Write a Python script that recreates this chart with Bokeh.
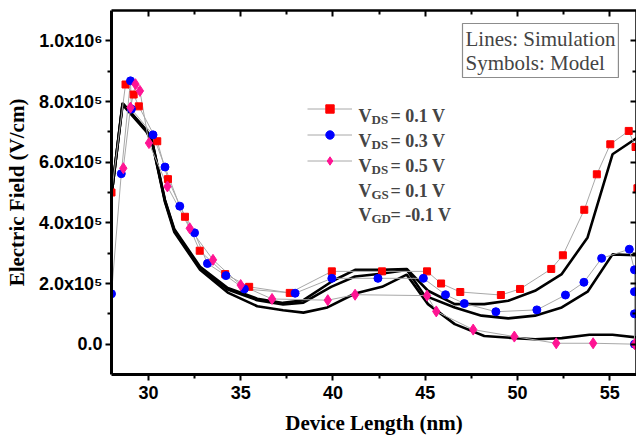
from bokeh.plotting import figure
from bokeh.models import (LinearAxis, FixedTicker, Label, Legend, LegendItem, Range1d,
                          CustomJSTickFormatter)
from bokeh.embed import file_html
from bokeh.resources import INLINE

# ---- Model (symbols) ----
red_x = [28.0, 28.76, 29.2, 29.48, 30.48, 31.06, 31.98, 32.78, 34.16, 35.46, 37.66, 39.94,
         42.66, 45.1, 45.86, 46.9, 49.1, 50.14, 51.83, 52.46, 53.62, 54.3, 55.03, 56.03, 56.4, 56.5]
red_y = [5.0e5, 8.56e5, 8.23e5, 7.84e5, 6.69e5, 5.44e5, 4.2e5, 3.08e5, 2.31e5, 1.89e5, 1.69e5, 2.4e5,
         2.4e5, 2.4e5, 2.0e5, 1.72e5, 1.62e5, 1.82e5, 2.48e5, 2.93e5, 4.43e5, 5.6e5, 6.59e5, 7.03e5, 6.5e5, 5.14e5]

blue_x = [28.0, 28.53, 29.03, 29.08, 30.25, 30.9, 31.7, 32.5, 33.2, 34.2, 35.2, 37.95, 39.94, 42.44,
          44.9, 46.1, 47.12, 48.83, 51.05, 52.6, 53.6, 54.56, 56.06, 56.34, 56.34, 56.34, 56.34]
blue_y = [1.66e5, 5.62e5, 8.68e5, 7.75e5, 6.9e5, 5.84e5, 4.55e5, 3.67e5, 2.66e5, 2.26e5, 1.82e5, 1.68e5, 2.17e5, 2.17e5,
          2.17e5, 1.63e5, 1.34e5, 1.07e5, 1.13e5, 1.62e5, 2.04e5, 2.83e5, 3.13e5, 2.45e5, 1.73e5, 1.0e5, 0.0]

pink_x = [28.64, 29.03, 29.3, 29.54, 30.03, 31.03, 32.24, 33.5, 35.0, 36.7, 39.72, 41.2, 45.1, 45.6,
          47.6, 49.83, 52.1, 54.1, 56.35]
pink_y = [5.8e5, 7.8e5, 8.57e5, 8.35e5, 6.63e5, 5.2e5, 3.82e5, 2.78e5, 1.95e5, 1.49e5, 1.45e5, 1.63e5, 1.6e5, 1.08e5,
          4.8e4, 2.5e4, 3e3, 3e3, 0.0]

# ---- Simulation (lines) ----
simA_x = [28.0, 28.6, 29.9, 30.2, 30.9, 31.4, 32.8, 34.3, 35.9, 37.3, 38.4, 40.0, 41.2, 42.6, 44.0,
          45.15, 46.6, 48.2, 49.5, 50.95, 52.4, 53.8, 55.15, 56.5]
simA_y = [4.9e5, 7.95e5, 7.05e5, 6.7e5, 4.75e5, 3.8e5, 2.55e5, 1.85e5, 1.5e5, 1.36e5, 1.45e5, 2.09e5, 2.45e5, 2.45e5, 2.48e5,
          1.76e5, 1.32e5, 1.32e5, 1.43e5, 1.76e5, 2.31e5, 3.52e5, 6.26e5, 6.81e5]

simB_x = [28.0, 28.6, 29.9, 30.2, 30.9, 31.4, 32.8, 34.3, 35.9, 37.3, 38.4, 39.9, 41.2, 42.6, 44.0,
          44.97, 46.6, 48.05, 49.5, 50.95, 52.4, 53.8, 55.15, 56.5]
simB_y = [4.9e5, 7.93e5, 7.03e5, 6.68e5, 4.72e5, 3.76e5, 2.5e5, 1.8e5, 1.45e5, 1.31e5, 1.37e5, 1.89e5, 2.23e5, 2.32e5, 2.45e5,
          1.6e5, 1.21e5, 9.4e4, 8.5e4, 9.4e4, 1.21e5, 1.73e5, 2.96e5, 2.93e5]

simC_x = [28.0, 28.6, 29.9, 30.2, 30.9, 31.4, 32.8, 34.3, 35.9, 37.3, 38.4, 39.7, 41.2, 42.66, 44.0,
          45.15, 46.6, 48.2, 49.84, 50.95, 52.4, 53.9, 55.15, 56.5]
simC_y = [4.9e5, 7.9e5, 7.0e5, 6.65e5, 4.68e5, 3.7e5, 2.45e5, 1.7e5, 1.25e5, 1.12e5, 1.04e5, 1.21e5, 1.67e5, 1.89e5, 2.29e5,
          1.32e5, 6.6e4, 2.7e4, 2.0e4, 1.6e4, 2.0e4, 3.1e4, 3.1e4, 2.2e4]

x_major = [30, 35, 40, 45, 50, 55]
x_minor = [32.5, 37.5, 42.5, 47.5, 52.5]
y_major = [0, 200000, 400000, 600000, 800000, 1000000]
y_minor = [100000, 300000, 500000, 700000, 900000]
y_labels = ["0.0", "2.0x10\u2075", "4.0x10\u2075", "6.0x10\u2075", "8.0x10\u2075", "1.0x10\u2076"]

legend_main = ["= 0.1 V", "= 0.3 V", "= 0.5 V"]
extra_sub = ["GS", "GD"]
extra_main = ["= 0.1 V", "= -0.1 V"]

RED, BLUE, PINK, GRAY = "#ff0000", "#0000ff", "#ff1493", "#a8a8a8"

FRAME_L, FRAME_T, FRAME_B = 111, 10, 374
p = figure(width=636, height=438, output_backend="svg", toolbar_location=None,
           x_range=Range1d(28.0, 56.45), y_range=Range1d(-1.0e5, 1.1e6),
           min_border_left=FRAME_L, min_border_right=0, min_border_top=FRAME_T,
           min_border_bottom=438 - FRAME_B, background_fill_color="white",
           border_fill_color="white", outline_line_color=None)
p.xgrid.visible = False
p.ygrid.visible = False

# simulation lines
for sx, sy in [(simA_x, simA_y), (simB_x, simB_y), (simC_x, simC_y)]:
    p.line(sx, sy, line_color="black", line_width=2.6)

# model series
r_rl = p.line(red_x, red_y, line_color=GRAY, line_width=1)
r_bl = p.line(blue_x, blue_y, line_color=GRAY, line_width=1)
r_pl = p.line(pink_x, pink_y, line_color=GRAY, line_width=1)
r_rs = p.scatter(red_x, red_y, marker="square", size=7, fill_color=RED, line_color=RED)
r_bs = p.scatter(blue_x, blue_y, marker="circle", size=8, fill_color=BLUE, line_color=BLUE)
r_ps = p.scatter(pink_x, pink_y, marker="diamond", size=11, fill_color=PINK, line_color=PINK)

# axes
TICK_FONT = "Liberation Sans"
xa = p.xaxis[0]
xa.ticker = FixedTicker(ticks=x_major, minor_ticks=x_minor)
ya = p.yaxis[0]
ya.ticker = FixedTicker(ticks=y_major, minor_ticks=y_minor)
ya.major_label_overrides = {v: s for v, s in zip(y_major, y_labels)}
for ax in (xa, ya):
    ax.axis_line_width = 3
    ax.major_tick_line_width = 2
    ax.minor_tick_line_width = 2
    ax.major_tick_out = 6
    ax.major_tick_in = 0
    ax.minor_tick_out = 4
    ax.minor_tick_in = 0
    ax.major_label_text_font = TICK_FONT
    ax.major_label_text_font_style = "bold"
    ax.major_label_text_font_size = "18px"
    ax.major_label_text_color = "black"
    ax.axis_label_text_font = "Liberation Serif"
    ax.axis_label_text_font_style = "bold"
    ax.axis_label_text_font_size = "21px"
    ax.axis_label_text_color = "black"
xa.axis_label = "Device Length (nm)"
ya.axis_label = "Electric Field (V/cm)"
xa.major_label_standoff = 5
xa.axis_label_standoff = 9
ya.major_label_standoff = 3
ya.axis_label_standoff = 7

blank = CustomJSTickFormatter(code="return ''")
top = LinearAxis(ticker=FixedTicker(ticks=x_major, minor_ticks=x_minor), formatter=blank)
right = LinearAxis(ticker=FixedTicker(ticks=y_major, minor_ticks=y_minor), formatter=blank)
for ax in (top, right):
    ax.axis_line_width = 2.5
    ax.major_tick_line_width = 2
    ax.minor_tick_line_width = 2
    ax.major_tick_in = 6
    ax.major_tick_out = 0
    ax.minor_tick_in = 4
    ax.minor_tick_out = 0
    ax.major_label_standoff = 0
    ax.major_label_text_font_size = "1px"
p.add_layout(top, "above")
p.add_layout(right, "right")

# legend (glyphs only; texts added as labels)
legend = Legend(items=[LegendItem(label=" ", renderers=[r_rl, r_rs]),
                       LegendItem(label=" ", renderers=[r_bl, r_bs]),
                       LegendItem(label=" ", renderers=[r_pl, r_ps])],
                location=(196, 203), glyph_width=45, glyph_height=21, spacing=5,
                padding=0, margin=0, border_line_color=None, background_fill_alpha=0,
                label_text_font_size="6px", label_height=21, label_width=1, label_standoff=0)
p.add_layout(legend)

def scr_y(baseline):
    return FRAME_B - baseline

LEG_FONT = "Liberation Serif"
baselines = [115, 140, 165, 190, 214]
subs = ["DS", "DS", "DS"] + extra_sub
mains = legend_main + extra_main
for b, sub, main in zip(baselines, subs, mains):
    p.add_layout(Label(x=358 - FRAME_L, y=scr_y(b), x_units="screen", y_units="screen", text="V",
                       text_font=LEG_FONT, text_font_style="bold", text_font_size="18px",
                       text_baseline="alphabetic"))
    p.add_layout(Label(x=371 - FRAME_L, y=scr_y(b + 4), x_units="screen", y_units="screen", text=sub,
                       text_font=LEG_FONT, text_font_style="bold", text_font_size="13px",
                       text_baseline="alphabetic"))
    p.add_layout(Label(x=390 - FRAME_L, y=scr_y(b), x_units="screen", y_units="screen", text=main,
                       text_font=LEG_FONT, text_font_style="bold", text_font_size="18px",
                       text_baseline="alphabetic"))

p.add_layout(Label(x=462 - FRAME_L, y=scr_y(23), x_units="screen", y_units="screen",
                   text="Lines: Simulation\nSymbols: Model", text_font=LEG_FONT,
                   text_font_size="21px", text_baseline="top", text_line_height=1.0,
                   border_line_color="#8c8c8c", border_line_width=1.2,
                   background_fill_color="white", padding=3))

open("out.html", "w").write(file_html(p, INLINE))
